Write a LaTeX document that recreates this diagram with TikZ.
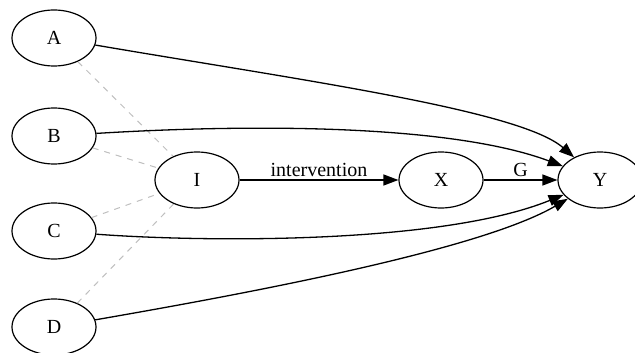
\documentclass[tikz,border=0pt]{standalone}
\usepackage{fontspec}
\setmainfont{Liberation Serif}
\usetikzlibrary{arrows.meta,shapes.geometric}

\begin{document}
\begin{tikzpicture}[x=1pt,y=-1pt,line width=1.3pt,-]
                \tikzstyle{vertex}=[ellipse,draw=black,fill=white,minimum width=84pt,minimum height=56pt,inner sep=0pt,line width=1.2pt,font=\fontsize{20}{24}\selectfont]
                \tikzstyle{tip}=[-{Triangle[length=15pt,width=11pt]}]
                \tikzstyle{hint}=[draw=black!25,line width=1pt,dash pattern=on 6pt off 6pt]
                \useasboundingbox (0,0) rectangle (635,353);
                \foreach \name/\y in {A/38, B/136, C/231, D/327}
                        \node[vertex] (V-\name) at (54,\y) {\name};
                \node[vertex] (V-I) at (197,180) {I};
                \node[vertex] (V-X) at (441,180) {X};
                \node[vertex] (V-Y) at (600,180) {Y};

                    \foreach \from in {A, B, C, D}
                        \draw[hint] (V-\from) -- (V-I);
                    \draw[tip] (V-I) -- node[above,inner sep=3pt,font=\fontsize{20}{24}\selectfont] {intervention} (V-X);
                    \draw[tip] (V-X) -- node[above,inner sep=3pt,font=\fontsize{20}{24}\selectfont] {G} (V-Y);

                    \draw[tip] (V-A) .. controls (300, 80) and (520, 110) .. (V-Y);
                    \draw[tip] (V-B) .. controls (250, 124) and (450, 124) .. (V-Y);
                    \draw[tip] (V-C) .. controls (200, 242) and (440, 245) .. (V-Y);
                    \draw[tip] (V-D) .. controls (250, 293) and (480, 250) .. (V-Y);
            \end{tikzpicture}
\end{document}
